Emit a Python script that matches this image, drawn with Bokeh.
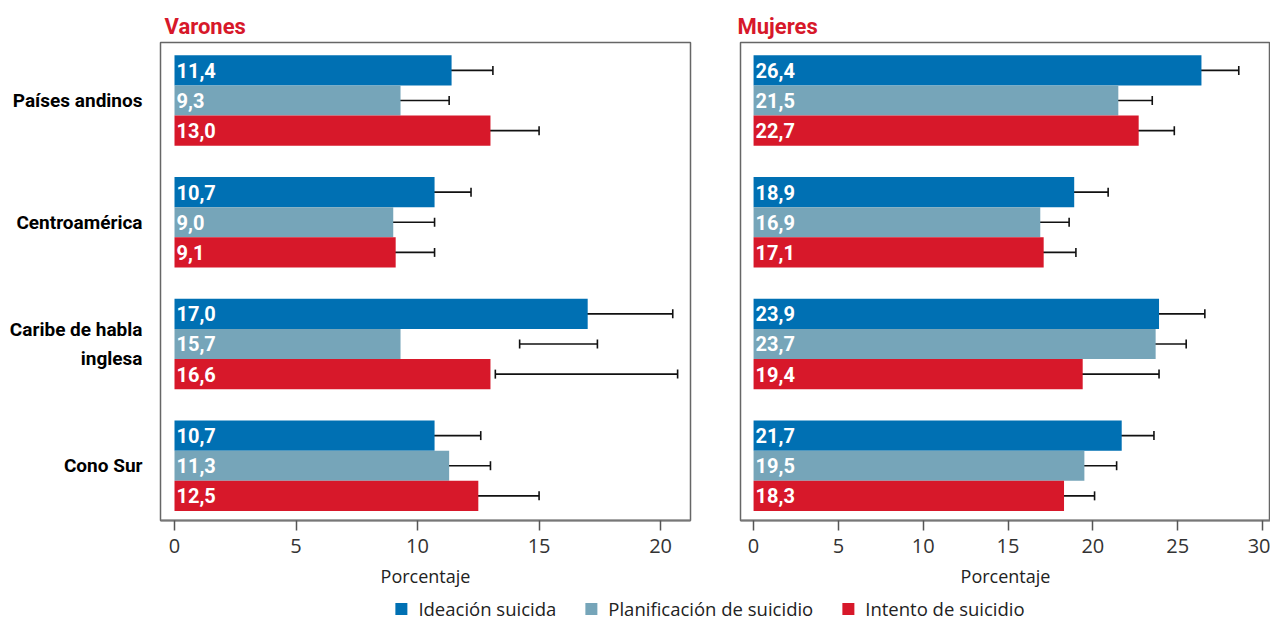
from bokeh.plotting import figure
from bokeh.layouts import row, column
from bokeh.models import (Range1d, FixedTicker, ColumnDataSource, Whisker, TeeHead,
                          Legend, LegendItem)
from bokeh.core.properties import value
from bokeh.embed import file_html
from bokeh.resources import INLINE

# ---------------- data ----------------
regions = ["Países andinos", "Centroamérica", "Caribe de habla\ninglesa", "Cono Sur"]
series = ["Ideación suicida", "Planificación de suicidio", "Intento de suicidio"]
colors = ["#0070B3", "#76A5B9", "#D7182A"]

# Varones: printed values
varones_ideacion = [11.4, 10.7, 17.0, 10.7]
varones_planificacion = [9.3, 9.0, 15.7, 11.3]
varones_intento = [13.0, 9.1, 16.6, 12.5]
# Varones: bar lengths as drawn in the reference (Caribe bars differ from their labels)
varones_planificacion_barra = [9.3, 9.0, 9.3, 11.3]
varones_intento_barra = [13.0, 9.1, 13.0, 12.5]
# Varones: confidence intervals
varones_ideacion_lo = [9.8, 9.3, 14.0, 9.3]
varones_ideacion_hi = [13.1, 12.2, 20.5, 12.6]
varones_planificacion_lo = [7.7, 7.6, 14.2, 9.8]
varones_planificacion_hi = [11.3, 10.7, 17.4, 13.0]
varones_intento_lo = [11.3, 7.8, 13.2, 10.4]
varones_intento_hi = [15.0, 10.7, 20.7, 15.0]

# Mujeres
mujeres_ideacion = [26.4, 18.9, 23.9, 21.7]
mujeres_planificacion = [21.5, 16.9, 23.7, 19.5]
mujeres_intento = [22.7, 17.1, 19.4, 18.3]
mujeres_ideacion_lo = [24.2, 17.1, 21.3, 20.0]
mujeres_ideacion_hi = [28.6, 20.9, 26.6, 23.6]
mujeres_planificacion_lo = [19.6, 15.2, 22.0, 17.7]
mujeres_planificacion_hi = [23.5, 18.6, 25.5, 21.4]
mujeres_intento_lo = [20.8, 15.3, 15.6, 16.7]
mujeres_intento_hi = [24.8, 19.0, 23.9, 20.1]

x_ticks_varones = [0, 5, 10, 15, 20]
x_ticks_mujeres = [0, 5, 10, 15, 20, 25, 30]
x_label = "Porcentaje"

# ---------------- styling ----------------
BOLD_FONT = "Roboto"
LIGHT_FONT = "Open Sans"
GROUP_STEP = 4
BAR_H = 0.99
centers = [-i * GROUP_STEP for i in range(len(regions))]


def fmt(v):
    return f"{v:.1f}".replace(".", ",")


def make_panel(title, width, x_range, bars, labels, los, his, ticks, show_y,
               min_left, min_right, title_offset):
    p = figure(width=width, height=594, x_range=x_range,
               y_range=Range1d(-13.8, 1.907), output_backend="svg",
               toolbar_location=None, min_border_left=min_left,
               min_border_right=min_right, min_border_top=42,
               min_border_bottom=74, title=title)
    p.title.text_font = BOLD_FONT
    p.title.text_font_style = "bold"
    p.title.text_font_size = "22px"
    p.title.text_color = "#D7182A"
    p.title.align = "left"
    p.title.offset = title_offset
    p.title.standoff = 8

    p.xgrid.visible = False
    p.ygrid.visible = False
    p.outline_line_color = "#666666"
    p.outline_line_width = 1.5

    for k in range(3):
        ys = [c + (1 - k) * BAR_H for c in centers]
        src = ColumnDataSource(dict(y=ys, right=bars[k],
                                    lab=[fmt(v) for v in labels[k]],
                                    lo=los[k], hi=his[k]))
        p.hbar(y="y", left=0, right="right", height=BAR_H, source=src,
               fill_color=colors[k], line_color=None)
        p.text(x=0, y="y", text="lab", source=src, x_offset=2,
               text_baseline="middle", text_align="left",
               text_color="white", text_font=value(BOLD_FONT),
               text_font_style="bold", text_font_size="20px")
        w = Whisker(source=src, base="y", lower="lo", upper="hi",
                    dimension="width", line_color="#111111", line_width=1.6,
                    lower_head=TeeHead(size=9, line_color="#111111", line_width=1.6),
                    upper_head=TeeHead(size=9, line_color="#111111", line_width=1.6))
        p.add_layout(w)

    xa = p.xaxis[0]
    xa.ticker = FixedTicker(ticks=ticks)
    xa.axis_label = x_label
    xa.axis_label_text_font = LIGHT_FONT
    xa.axis_label_text_font_style = "normal"
    xa.axis_label_text_font_size = "18px"
    xa.axis_label_text_color = "#222222"
    xa.axis_label_standoff = 8
    xa.major_label_text_font = LIGHT_FONT
    xa.major_label_text_font_size = "20px"
    xa.major_label_text_color = "#333333"
    xa.major_label_standoff = 8
    xa.axis_line_color = "#777777"
    xa.axis_line_width = 2
    xa.major_tick_line_color = "#555555"
    xa.major_tick_line_width = 1.5
    xa.major_tick_out = 10
    xa.major_tick_in = 0
    xa.minor_tick_line_color = None

    ya = p.yaxis[0]
    ya.major_tick_line_color = None
    ya.minor_tick_line_color = None
    ya.axis_line_color = None
    if show_y:
        ya.ticker = FixedTicker(ticks=centers)
        ya.major_label_overrides = {c: r for c, r in zip(centers, regions)}
        ya.major_label_text_font = BOLD_FONT
        ya.major_label_text_font_style = "bold"
        ya.major_label_text_font_size = "19px"
        ya.major_label_text_color = "#000000"
        ya.major_label_text_line_height = 1.3
        ya.major_label_standoff = 12
    else:
        ya.ticker = FixedTicker(ticks=[])
        ya.major_label_text_font_size = "0px"
        ya.major_label_standoff = 0
    return p


p1 = make_panel("Varones", 700, Range1d(-0.576, 21.23),
                [varones_ideacion, varones_planificacion_barra, varones_intento_barra],
                [varones_ideacion, varones_planificacion, varones_intento],
                [varones_ideacion_lo, varones_planificacion_lo, varones_intento_lo],
                [varones_ideacion_hi, varones_planificacion_hi, varones_intento_hi],
                x_ticks_varones, True, 160, 10, 4)

p2 = make_panel("Mujeres", 570, Range1d(-0.77, 30.47),
                [mujeres_ideacion, mujeres_planificacion, mujeres_intento],
                [mujeres_ideacion, mujeres_planificacion, mujeres_intento],
                [mujeres_ideacion_lo, mujeres_planificacion_lo, mujeres_intento_lo],
                [mujeres_ideacion_hi, mujeres_planificacion_hi, mujeres_intento_hi],
                x_ticks_mujeres, False, 40, 0, -3)

# legend strip (zero-height dummy bars only provide the legend swatches)
lf = figure(width=1270, height=27, output_backend="svg", toolbar_location=None,
            min_border_left=148, min_border_right=0, min_border_top=0,
            min_border_bottom=0, x_range=Range1d(0, 1), y_range=Range1d(0, 1))
lf.axis.visible = False
lf.grid.visible = False
lf.outline_line_color = None
items = []
for name, c in zip(series, colors):
    r = lf.hbar(y=[0], left=[0], right=[0], height=0, fill_color=c, line_color=None)
    items.append(LegendItem(label=name, renderers=[r]))
leg = Legend(items=items, orientation="horizontal", location="bottom",
             label_text_font=LIGHT_FONT, label_text_font_size="18.5px",
             label_text_color="#222222", glyph_width=15, glyph_height=15,
             label_standoff=10, spacing=27, padding=0, margin=0,
             label_height=16, border_line_color=None, background_fill_alpha=0)
lf.add_layout(leg, "center")

layout = column(row(p1, p2), lf)
open("out.html", "w").write(file_html(layout, INLINE))
